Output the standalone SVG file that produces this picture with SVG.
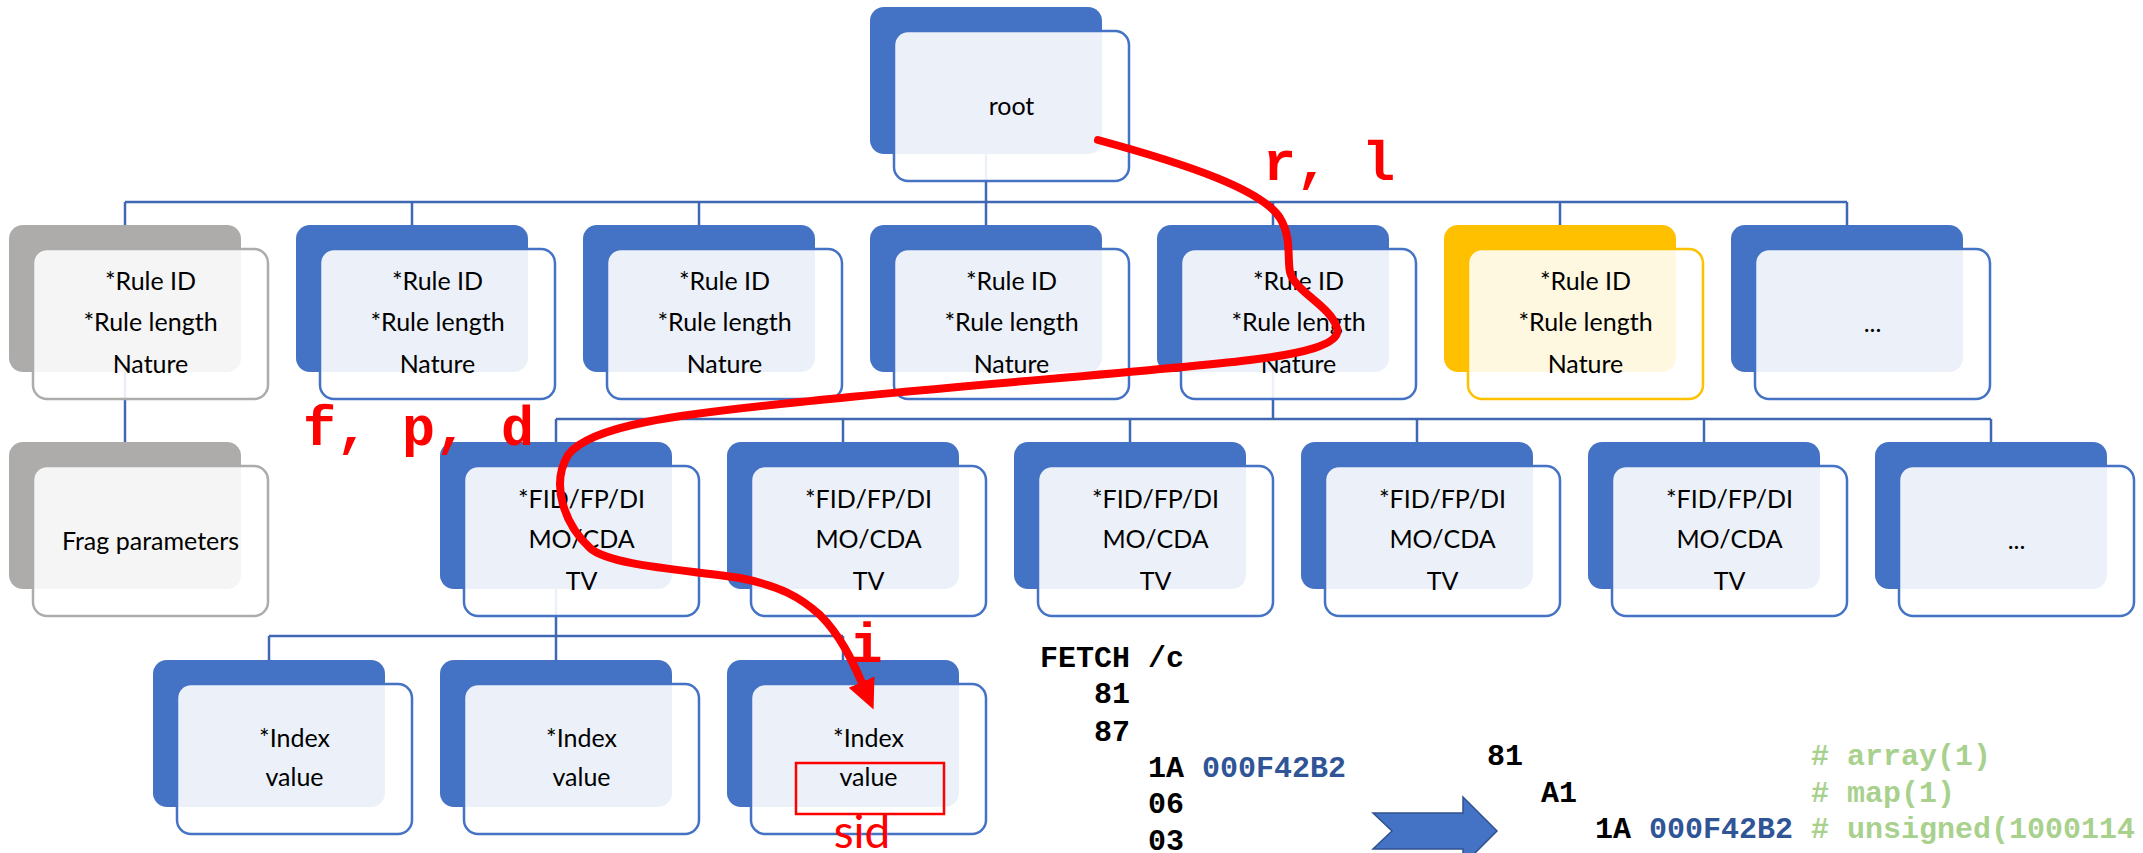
<svg xmlns="http://www.w3.org/2000/svg" width="2143" height="853" viewBox="0 0 2143 853">
<style>
.bb{fill:#4472C4}
.bg{fill:#AEABAB}
.by{fill:#FFC000}
.fb{fill:#FFFFFF;fill-opacity:0.9;stroke:#4472C4;stroke-width:2.5}
.fg{fill:#FFFFFF;fill-opacity:0.88;stroke:#AEABAB;stroke-width:2.5}
.fy{fill:#FFFFFF;fill-opacity:0.88;stroke:#FFC000;stroke-width:2.5}
.conn{stroke:#4068B2;stroke-width:2.5;fill:none}
.t{font-family:Lato,"Noto Sans",sans-serif;font-size:25px;fill:#000;text-anchor:middle}
.lbl{font-family:"Liberation Mono","Courier New",monospace;font-weight:bold;font-size:55px;fill:#FF0000}
.code{font-family:"Liberation Mono","Courier New",monospace;font-weight:bold;font-size:30px;fill:#000}
.hex{fill:#2F5597}
.cmt{fill:#A9D18E}
</style>
<defs>
<marker id="ah" markerUnits="userSpaceOnUse" markerWidth="34" markerHeight="34" viewBox="0 0 34 34" refX="1" refY="15" orient="auto">
<path d="M0,1 L30,15 L0,29 z" fill="#FF0000"/>
</marker>
</defs>

<g id="connectors">
<path class="conn" d="M986 154V202 M125 202H1847 M125 202V225 M412 202V225 M699 202V225 M986 202V225 M1273 202V225 M1560 202V225 M1847 202V225"/>
<path class="conn" d="M125 372V442"/>
<path class="conn" d="M1273 372V419 M556 419H1991 M556 419V442 M843 419V442 M1130 419V442 M1417 419V442 M1704 419V442 M1991 419V442"/>
<path class="conn" d="M556 589V636 M269 636H843 M269 636V660 M556 636V660 M843 636V660"/>
</g>

<g id="root">
<rect class="bb" x="870" y="7" width="232" height="147" rx="14"/>
<rect class="fb" x="894" y="31" width="235" height="150" rx="14"/>
<text class="t" x="1011.5" y="115">root</text>
</g>

<g id="rule1">
<rect class="bg" x="9" y="225" width="232" height="147" rx="14"/>
<rect class="fg" x="33" y="249" width="235" height="150" rx="14"/>
<text class="t" x="150.5" y="290">*Rule ID</text>
<text class="t" x="150.5" y="331">*Rule length</text>
<text class="t" x="150.5" y="373">Nature</text>
</g>
<g id="rule2">
<rect class="bb" x="296" y="225" width="232" height="147" rx="14"/>
<rect class="fb" x="320" y="249" width="235" height="150" rx="14"/>
<text class="t" x="437.5" y="290">*Rule ID</text>
<text class="t" x="437.5" y="331">*Rule length</text>
<text class="t" x="437.5" y="373">Nature</text>
</g>
<g id="rule3">
<rect class="bb" x="583" y="225" width="232" height="147" rx="14"/>
<rect class="fb" x="607" y="249" width="235" height="150" rx="14"/>
<text class="t" x="724.5" y="290">*Rule ID</text>
<text class="t" x="724.5" y="331">*Rule length</text>
<text class="t" x="724.5" y="373">Nature</text>
</g>
<g id="rule4">
<rect class="bb" x="870" y="225" width="232" height="147" rx="14"/>
<rect class="fb" x="894" y="249" width="235" height="150" rx="14"/>
<text class="t" x="1011.5" y="290">*Rule ID</text>
<text class="t" x="1011.5" y="331">*Rule length</text>
<text class="t" x="1011.5" y="373">Nature</text>
</g>
<g id="rule5">
<rect class="bb" x="1157" y="225" width="232" height="147" rx="14"/>
<rect class="fb" x="1181" y="249" width="235" height="150" rx="14"/>
<text class="t" x="1298.5" y="290">*Rule ID</text>
<text class="t" x="1298.5" y="331">*Rule length</text>
<text class="t" x="1298.5" y="373">Nature</text>
</g>
<g id="rule6">
<rect class="by" x="1444" y="225" width="232" height="147" rx="14"/>
<rect class="fy" x="1468" y="249" width="235" height="150" rx="14"/>
<text class="t" x="1585.5" y="290">*Rule ID</text>
<text class="t" x="1585.5" y="331">*Rule length</text>
<text class="t" x="1585.5" y="373">Nature</text>
</g>
<g id="rule7">
<rect class="bb" x="1731" y="225" width="232" height="147" rx="14"/>
<rect class="fb" x="1755" y="249" width="235" height="150" rx="14"/>
<text class="t" x="1872.5" y="332">...</text>
</g>

<g id="frag">
<rect class="bg" x="9" y="442" width="232" height="147" rx="14"/>
<rect class="fg" x="33" y="466" width="235" height="150" rx="14"/>
<text class="t" x="150.5" y="550">Frag parameters</text>
</g>

<g id="field1">
<rect class="bb" x="440" y="442" width="232" height="147" rx="14"/>
<rect class="fb" x="464" y="466" width="235" height="150" rx="14"/>
<text class="t" x="581.5" y="508">*FID/FP/DI</text>
<text class="t" x="581.5" y="548">MO/CDA</text>
<text class="t" x="581.5" y="590">TV</text>
</g>
<g id="field2">
<rect class="bb" x="727" y="442" width="232" height="147" rx="14"/>
<rect class="fb" x="751" y="466" width="235" height="150" rx="14"/>
<text class="t" x="868.5" y="508">*FID/FP/DI</text>
<text class="t" x="868.5" y="548">MO/CDA</text>
<text class="t" x="868.5" y="590">TV</text>
</g>
<g id="field3">
<rect class="bb" x="1014" y="442" width="232" height="147" rx="14"/>
<rect class="fb" x="1038" y="466" width="235" height="150" rx="14"/>
<text class="t" x="1155.5" y="508">*FID/FP/DI</text>
<text class="t" x="1155.5" y="548">MO/CDA</text>
<text class="t" x="1155.5" y="590">TV</text>
</g>
<g id="field4">
<rect class="bb" x="1301" y="442" width="232" height="147" rx="14"/>
<rect class="fb" x="1325" y="466" width="235" height="150" rx="14"/>
<text class="t" x="1442.5" y="508">*FID/FP/DI</text>
<text class="t" x="1442.5" y="548">MO/CDA</text>
<text class="t" x="1442.5" y="590">TV</text>
</g>
<g id="field5">
<rect class="bb" x="1588" y="442" width="232" height="147" rx="14"/>
<rect class="fb" x="1612" y="466" width="235" height="150" rx="14"/>
<text class="t" x="1729.5" y="508">*FID/FP/DI</text>
<text class="t" x="1729.5" y="548">MO/CDA</text>
<text class="t" x="1729.5" y="590">TV</text>
</g>
<g id="field6">
<rect class="bb" x="1875" y="442" width="232" height="147" rx="14"/>
<rect class="fb" x="1899" y="466" width="235" height="150" rx="14"/>
<text class="t" x="2016.5" y="549">...</text>
</g>

<g id="index1">
<rect class="bb" x="153" y="660" width="232" height="147" rx="14"/>
<rect class="fb" x="177" y="684" width="235" height="150" rx="14"/>
<text class="t" x="294.5" y="747">*Index</text>
<text class="t" x="294.5" y="786">value</text>
</g>
<g id="index2">
<rect class="bb" x="440" y="660" width="232" height="147" rx="14"/>
<rect class="fb" x="464" y="684" width="235" height="150" rx="14"/>
<text class="t" x="581.5" y="747">*Index</text>
<text class="t" x="581.5" y="786">value</text>
</g>
<g id="index3">
<rect class="bb" x="727" y="660" width="232" height="147" rx="14"/>
<rect class="fb" x="751" y="684" width="235" height="150" rx="14"/>
<text class="t" x="868.5" y="747">*Index</text>
<text class="t" x="868.5" y="786">value</text>
<rect x="796" y="763" width="148" height="51" fill="none" stroke="#FF0000" stroke-width="2.5"/>
</g>

<g id="path-annotation">
<path d="M1098 140 C1190 165,1262 190,1280 218 C1292 238,1287 258,1290 272 C1295 292,1330 305,1337 328 C1342 345,1300 354,1250 360 C1150 372,960 385,800 402 C680 414,590 425,568 455 C550 485,565 525,590 548 C610 566,690 570,740 578 C780 586,800 597,820 615 C840 635,852 660,862 683" fill="none" stroke="#FF0000" stroke-width="8" stroke-linecap="round" marker-end="url(#ah)"/>
<text class="lbl" x="1263" y="180">r, l</text>
<text class="lbl" x="303" y="445">f, p, d</text>
<text class="lbl" x="866" y="662" text-anchor="middle">i</text>
<text x="862" y="848" font-family="Lato,'Noto Sans',sans-serif" font-size="46" fill="#FF0000" text-anchor="middle">sid</text>
</g>

<g id="request">
<text class="code" x="1040" y="667">FETCH /c</text>
<text class="code" x="1094" y="703">81</text>
<text class="code" x="1094" y="741">87</text>
<text class="code" x="1148" y="777">1A <tspan class="hex">000F42B2</tspan></text>
<text class="code" x="1148" y="813">06</text>
<text class="code" x="1148" y="850">03</text>
</g>

<g id="arrow">
<polygon points="1373,813 1463,813 1463,797 1497,831 1463,865 1463,849 1373,849 1392,831" fill="#4472C4" stroke="#2F528F" stroke-width="1.5"/>
</g>

<g id="response">
<text class="code" x="1487" y="765">81</text>
<text class="code cmt" x="1811" y="765"># array(1)</text>
<text class="code" x="1541" y="802">A1</text>
<text class="code cmt" x="1811" y="802"># map(1)</text>
<text class="code" x="1595" y="838">1A <tspan class="hex">000F42B2</tspan></text>
<text class="code cmt" x="1811" y="838"># unsigned(1000114</text>
</g>
</svg>
